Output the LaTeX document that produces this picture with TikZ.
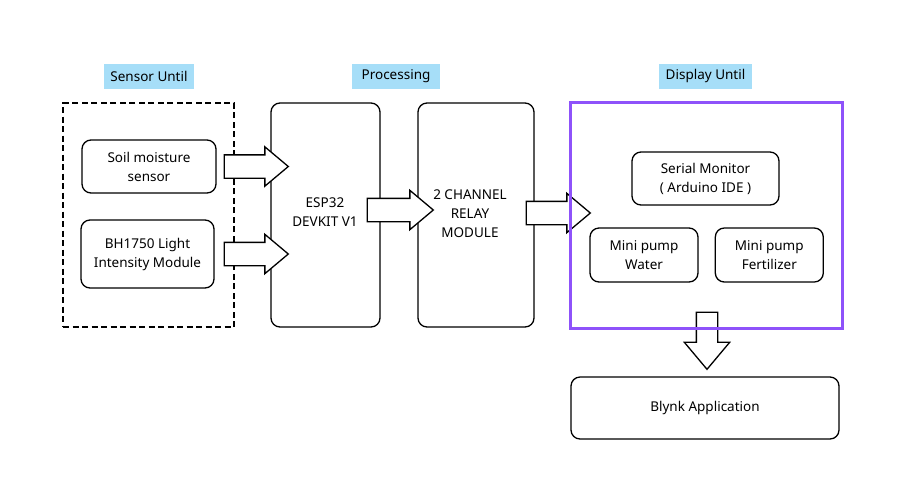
\documentclass[tikz,border=0pt]{standalone}
\usepackage{fontspec}
\setmainfont{Noto Sans}
\usetikzlibrary{positioning,shapes.arrows,calc}
\definecolor{labelblue}{RGB}{166,222,248}
\definecolor{displaypurple}{RGB}{142,82,250}
\tikzset{
  box/.style={draw, rounded corners=9pt, line width=1.3pt, fill=white, inner sep=0pt},
  group/.style={draw, dashed, dash pattern=on 6pt off 3.5pt, line width=1.3pt, inner sep=0pt},
  tag/.style={fill=labelblue, inner sep=0pt, minimum height=25pt},
  bigarrow/.style={draw, fill=white, line width=1.3pt, single arrow, single arrow tip angle=80,
    inner xsep=0pt, inner ysep=11pt, single arrow head extend=8pt, minimum height=64pt}
}
\begin{document}
\begin{tikzpicture}[x=1pt, y=-1pt, every node/.style={align=center, font=\fontsize{13.5}{19}\selectfont}]
\useasboundingbox (0,0) rectangle (904,499);
% groups
\node (sensors) [group, minimum width=171pt, minimum height=224pt] at (148.5,215) {};
\node (display) [group, minimum width=271pt, minimum height=225pt] at (706.5,215.5) {};
\node (sensortag) [tag, minimum width=90pt] at (149,76) {Sensor Until};
\node (proctag) [tag, minimum width=88pt] at (396,76) {Processing};
\node (displaytag) [tag, minimum width=93pt] at (705.5,76) {Display Until};

% sensor side
\node (soil) [box, minimum width=134pt, minimum height=53pt] at (149,166.5) {Soil moisture\\sensor};
\node (bh) [box, minimum width=133pt, minimum height=68pt] at (147.5,254) {BH1750 Light\\Intensity Module};

% processing
\node (esp) [box, minimum width=109pt, minimum height=224pt] at (325.5,215) {};
\node at (325,212) {ESP32\\DEVKIT V1};
\node (relay) [box, minimum width=116pt, minimum height=224pt] at (476,215) {};
\node at (470,214) {2 CHANNEL\\RELAY\\MODULE};

% display side
\node (serial) [box, minimum width=147pt, minimum height=53pt] at (705.5,178.5) {Serial Monitor\\( Arduino IDE )};
\node (water) [box, minimum width=108pt, minimum height=54pt] at (644,255) {Mini pump\\Water};
\node (fert) [box, minimum width=108pt, minimum height=54pt, right=16pt of water] {Mini pump\\Fertilizer};
\node (blynk) [box, minimum width=268pt, minimum height=62pt] at (705,408) {Blynk Application};

% flow arrows
\node (soilarrow) [bigarrow, anchor=tail] at ($(soil.east)+(7,0)$) {};
\node (bharrow) [bigarrow, anchor=tail] at ($(bh.east)+(9,0)$) {};
\node (esparrow) [bigarrow, anchor=tail, minimum height=66pt] at ($(esp.east)+(-14,-5)$) {};
\node (relayarrow) [bigarrow, anchor=tail] at ($(relay.east)+(-9,-2)$) {};
\node (blynkarrow) [bigarrow, anchor=tail, rotate=-90, inner ysep=10pt,
  single arrow head extend=12pt, minimum height=57pt] at ($(display.south)+(0.5,-17)$) {};

\draw[displaypurple, line width=2.4pt] (display.north west) rectangle (display.south east);
\end{tikzpicture}
\end{document}
